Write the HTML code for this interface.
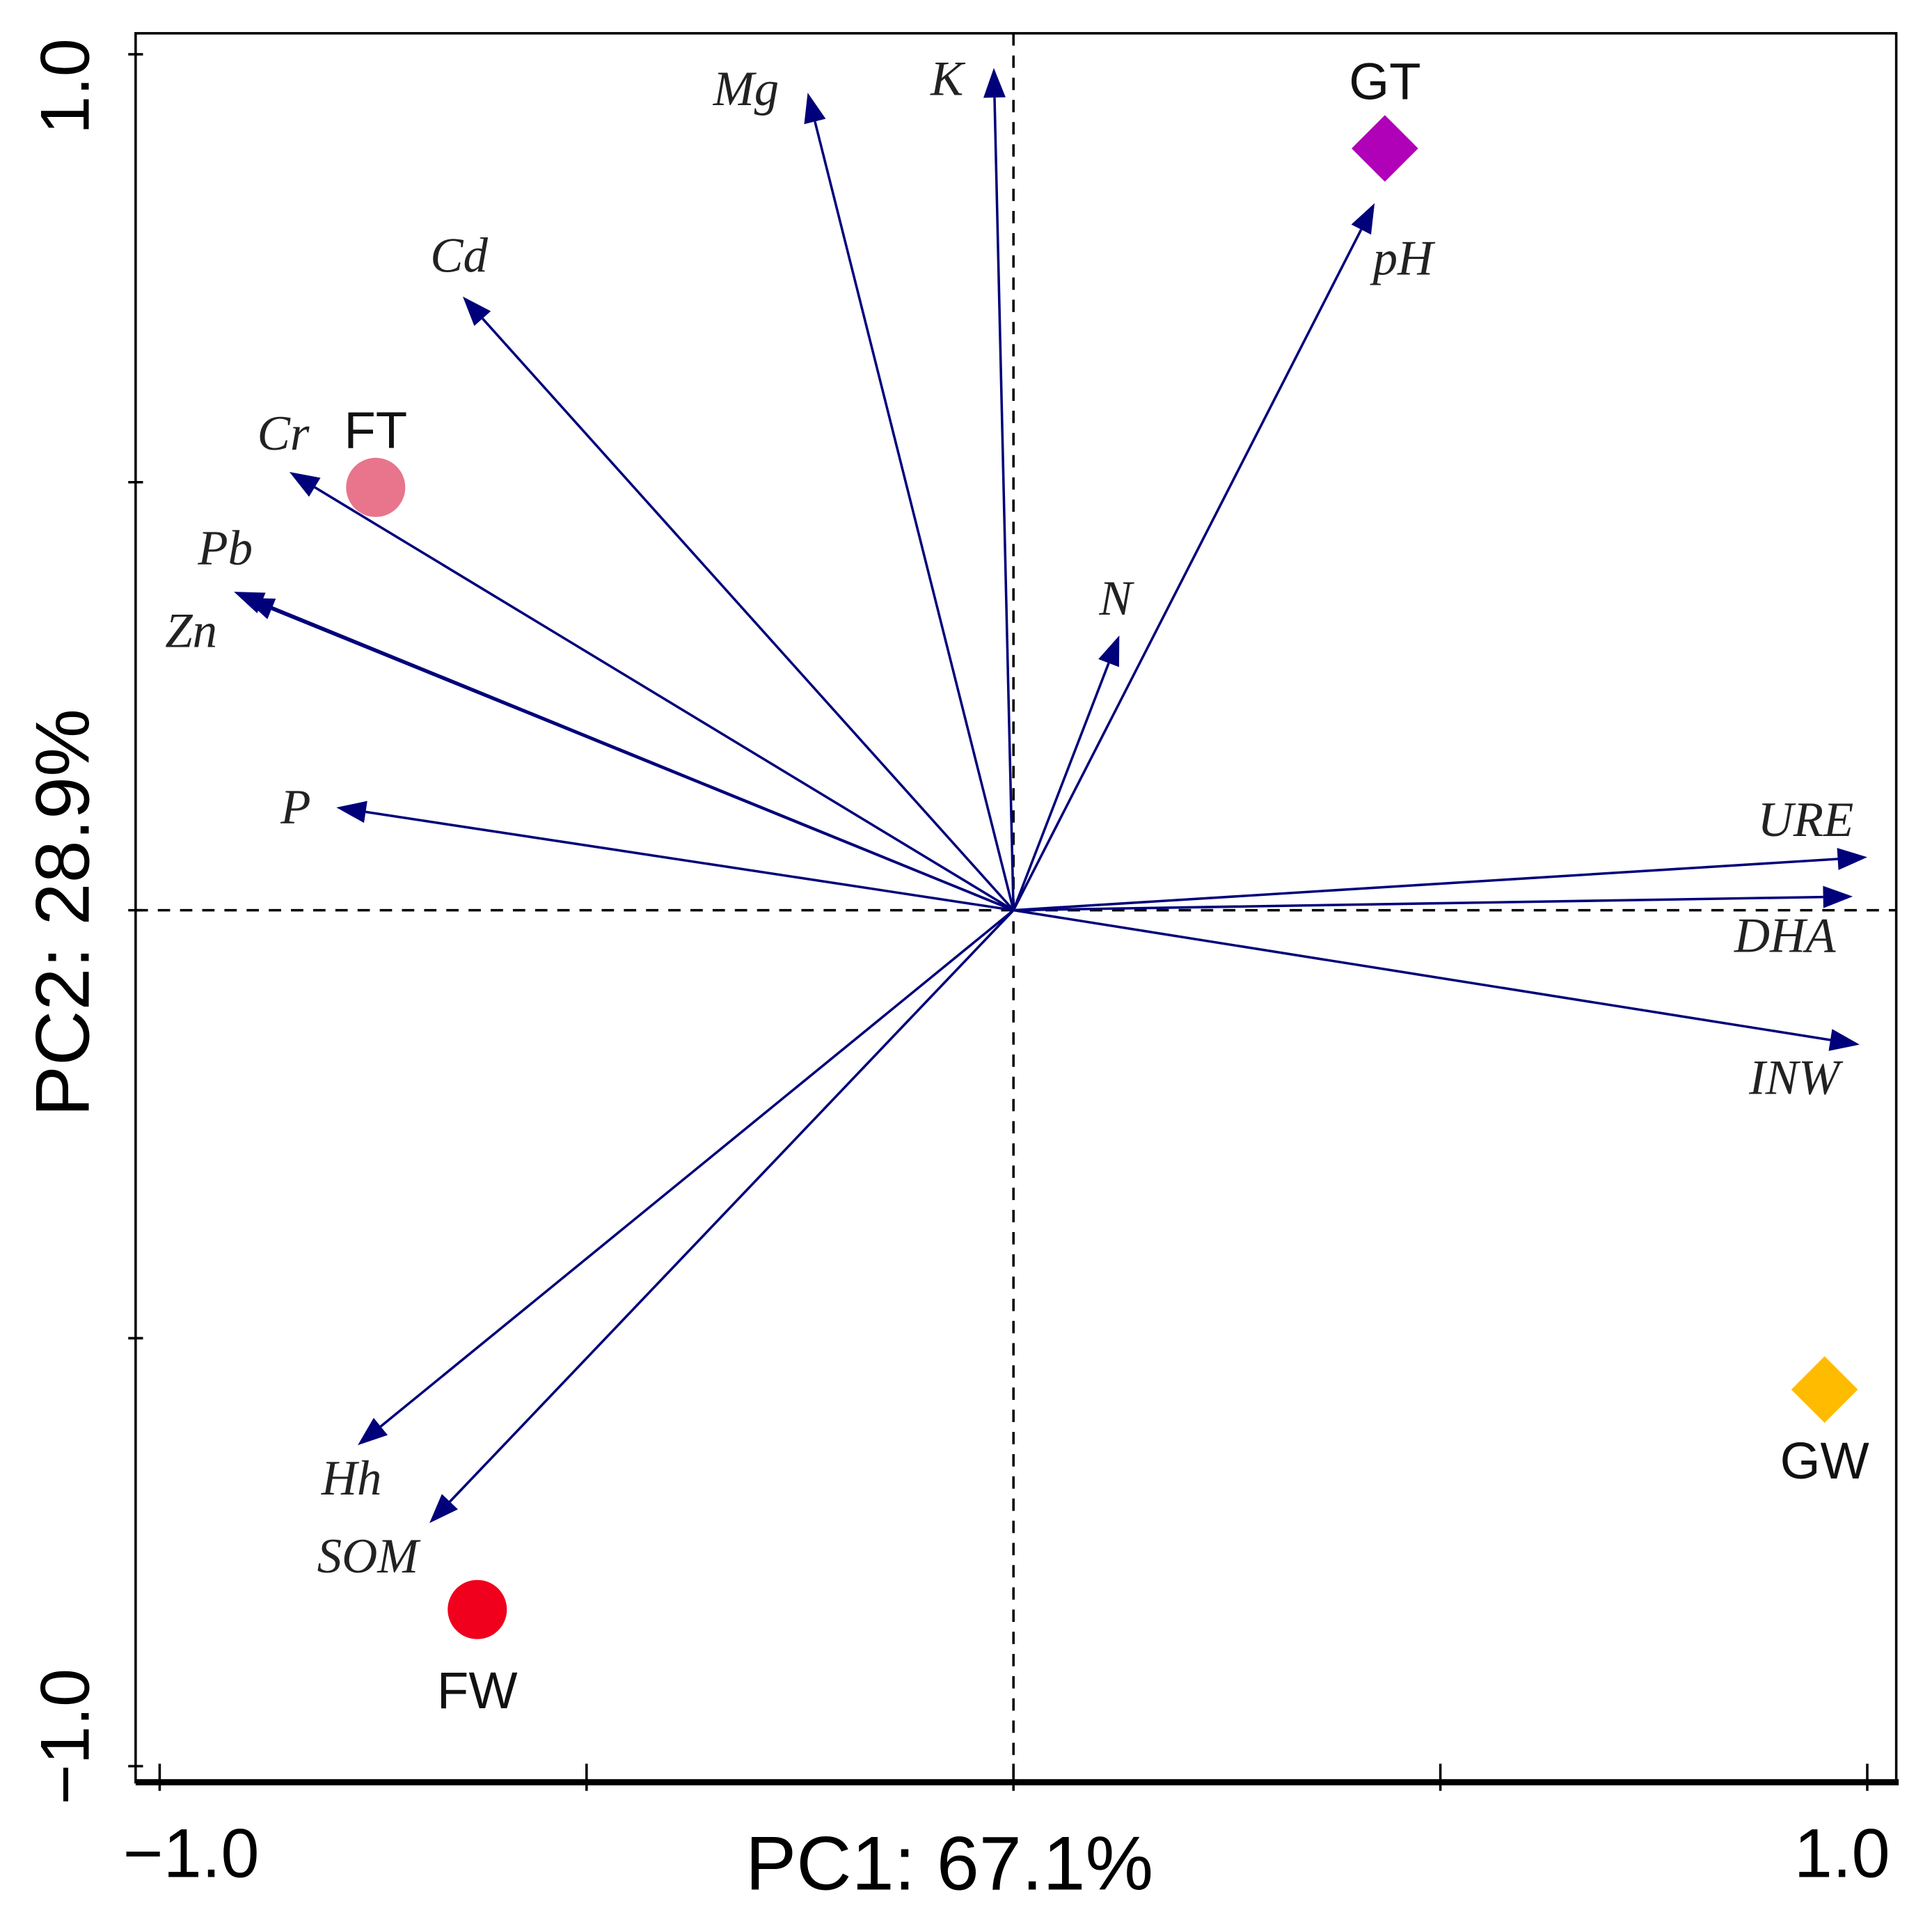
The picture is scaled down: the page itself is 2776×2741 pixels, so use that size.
<!DOCTYPE html>
<html><head><meta charset="utf-8"><style>
html,body{margin:0;padding:0;background:#fff;}
svg{display:block;}
</style></head><body>
<svg id="chart" width="2776" height="2741" viewBox="0 0 1567 1547" preserveAspectRatio="none" xmlns="http://www.w3.org/2000/svg">
<rect x="110" y="27" width="1428" height="1418" fill="none" stroke="#000" stroke-width="2"/>
<line x1="110" y1="1445" x2="1540" y2="1445" stroke="#000" stroke-width="5"/>
<g id="ticks"></g>
<line x1="822" y1="27" x2="822" y2="1450" stroke="#000" stroke-width="2" stroke-dasharray="10,8"/>
<line x1="110" y1="738" x2="1538" y2="738" stroke="#000" stroke-width="2" stroke-dasharray="10,8"/>
<g id="arrows"></g>
<g id="points"></g>
<text x="770" y="1532" font-family="Liberation Sans, sans-serif" font-size="62" text-anchor="middle">PC1: 67.1%</text>
<text x="155" y="1522" font-family="Liberation Sans, sans-serif" font-size="56" text-anchor="middle">−1.0</text>
<text x="1494" y="1522" font-family="Liberation Sans, sans-serif" font-size="56" text-anchor="middle">1.0</text>
<text transform="translate(72,740) rotate(-90)" font-family="Liberation Sans, sans-serif" font-size="62" text-anchor="middle">PC2: 28.9%</text>
<text transform="translate(72,70) rotate(-90)" font-family="Liberation Sans, sans-serif" font-size="56" text-anchor="middle">1.0</text>
<text transform="translate(72,1408) rotate(-90)" font-family="Liberation Sans, sans-serif" font-size="56" text-anchor="middle">−1.0</text>
</svg>
<script>
const varNames = ["Mg","K","Cd","Cr","Pb","Zn","P","N","pH","URE","DHA","INW","Hh","SOM"];
const varPC1 = [-0.241,-0.023,-0.645,-0.848,-0.913,-0.901,-0.793,0.124,0.423,1.0,0.983,0.991,-0.768,-0.684];
const varPC2 = [0.955,0.984,0.717,0.512,0.372,0.365,0.120,0.321,0.826,0.062,0.016,-0.157,-0.625,-0.716];
const varLabelDX = [-50,-38,-3,-5,-7,-43,-33,-3,23,-50,-55,-53,-5,-50];
const varLabelDY = [10,22,-20,-18,-22,40,13,-17,58,-17,45,40,40,40];
const sampleNames = ["GT","FT","FW","GW"];
const samplePC1 = [0.435,-0.747,-0.628,0.950];
const samplePC2 = [0.890,0.494,-0.817,-0.560];
const sampleShapes = ["diamond","circle","circle","diamond"];
const sampleColors = ["#b000b8","#e8758c","#f0001c","#ffbb00"];
const sampleLabelDY = [-40,-32,80,72];
const xTicks = [-1,-0.5,0,0.5,1];
const yTicks = [1,0.5,0,-0.5,-1];

const NS="http://www.w3.org/2000/svg";
function sx(v){return 822+v*692.5;}
function sy(v){return 738-v*694;}
function mk(tag,attrs,parent){const e=document.createElementNS(NS,tag);for(const k in attrs)e.setAttribute(k,attrs[k]);parent.appendChild(e);return e;}

const tg=document.getElementById('ticks');
xTicks.forEach(t=>{
  const l=mk('line',{x1:sx(t),y1:1430,x2:sx(t),y2:1452,stroke:'#000','stroke-width':2},tg);
  
  
});
yTicks.forEach(t=>{
  const l=mk('line',{x1:104,y1:sy(t),x2:116,y2:sy(t),stroke:'#000','stroke-width':2},tg);
  
  
});

const ag=document.getElementById('arrows');
varNames.forEach((n,i)=>{
  const x=sx(varPC1[i]),y=sy(varPC2[i]),x0=sx(0),y0=sy(0);
  const g=mk('g',{},ag);
  
  
  const dx=x-x0,dy=y-y0,L=Math.hypot(dx,dy),ux=dx/L,uy=dy/L;
  const hl=24,hw=9;
  const bx=x-ux*hl,by=y-uy*hl;
  mk('line',{x1:x0,y1:y0,x2:bx,y2:by,stroke:'#00007a','stroke-width':2},g);
  mk('polygon',{points:`${x},${y} ${bx-uy*hw},${by+ux*hw} ${bx+uy*hw},${by-ux*hw}`,fill:'#00007a'},g);
  const t=mk('text',{x:x+varLabelDX[i],y:y+varLabelDY[i],'font-family':'Liberation Serif, serif','font-style':'italic','font-size':40,'text-anchor':'middle',fill:'#222'},g);
  t.textContent=n;
});

const pg=document.getElementById('points');
sampleNames.forEach((n,i)=>{
  const x=sx(samplePC1[i]),y=sy(samplePC2[i]);
  const g=mk('g',{},pg);
  
  
  if(sampleShapes[i]==='circle') mk('circle',{cx:x,cy:y,r:24,fill:sampleColors[i]},g);
  else mk('polygon',{points:`${x},${y-27} ${x+27},${y} ${x},${y+27} ${x-27},${y}`,fill:sampleColors[i]},g);
  const t=mk('text',{x:x,y:y+sampleLabelDY[i],'font-family':'Liberation Sans, sans-serif','font-size':42,'text-anchor':'middle',fill:'#111'},g);
  t.textContent=n;
});
</script>
</body></html>
